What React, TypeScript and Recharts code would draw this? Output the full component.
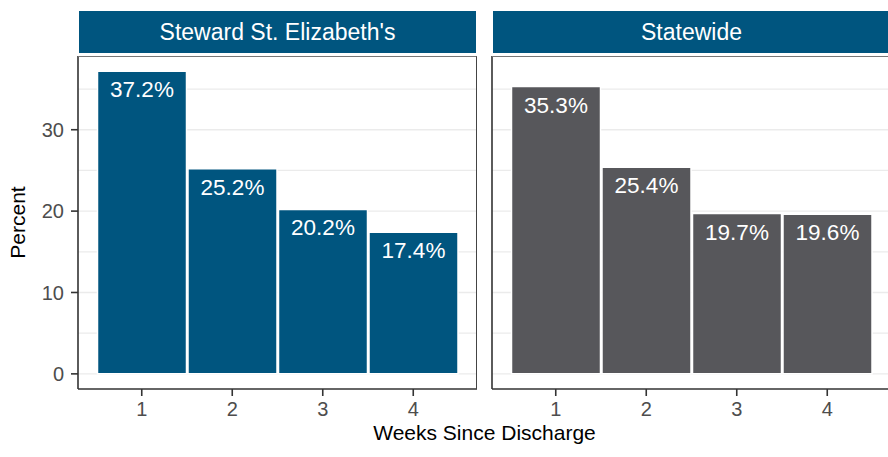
import React from "react";
import { BarChart, Bar, XAxis, YAxis, CartesianGrid, LabelList } from "recharts";

const weeks = ["1", "2", "3", "4"];
const stewardValues = [37.2, 25.2, 20.2, 17.4];
const statewideValues = [35.3, 25.4, 19.7, 19.6];
const facetLabels = ["Steward St. Elizabeth's", "Statewide"];
const yTicks = [0, 10, 20, 30];
const gridValues = [0, 5, 10, 15, 20, 25, 30, 35];

const allValues = [...stewardValues, ...statewideValues];
const yMax = Math.max(...allValues);
const yPad = yMax * 0.05;
const yDomain: [number, number] = [-yPad, yMax + yPad];

const BLUE = "#00557F";
const GRAY = "#57575B";
const FONT = "'Liberation Sans', Arial, Helvetica, sans-serif";

const stewardData = weeks.map((w, i) => ({ week: w, value: stewardValues[i] }));
const statewideData = weeks.map((w, i) => ({ week: w, value: statewideValues[i] }));

const BarLabel = (props: any) => {
  const { x, y, width, value } = props;
  return (
    <text
      x={Number(x) + Number(width) / 2}
      y={Number(y) + 26}
      textAnchor="middle"
      fill="#ffffff"
      fontSize={22.5}
      fontFamily={FONT}
    >
      {Number(value).toFixed(1) + "%"}
    </text>
  );
};

const gridGen = ({ yAxis, offset }: any) => {
  const sc = yAxis && yAxis.scale;
  if (typeof sc === "function") return gridValues.map((v) => sc(v));
  if (sc && typeof sc.map === "function") return gridValues.map((v) => sc.map(v));
  return gridValues.map(
    (v) => offset.top + (offset.height * (yDomain[1] - v)) / (yDomain[1] - yDomain[0])
  );
};

function Panel({ data, color, showY, left, label }: any) {
  return (
    <div style={{ position: "absolute", left, top: 0, width: 480, height: 457 }}>
      <BarChart
        width={480}
        height={457}
        data={data}
        margin={{ top: 56, right: 3, bottom: 28, left: 18 }}
        barCategoryGap={1}
      >
        <CartesianGrid
          vertical={false}
          stroke="#EBEBEB"
          strokeWidth={1.3}
          horizontalCoordinatesGenerator={gridGen}
        />
        <XAxis
          dataKey="week"
          height={40}
          padding={{ left: 18.5, right: 18.5 }}
          tickSize={7}
          tickMargin={6}
          axisLine={{ stroke: "#333333", strokeWidth: 1.6 }}
          tickLine={{ stroke: "#333333", strokeWidth: 1.6 }}
          tick={{ fill: "#4D4D4D", fontSize: 20, fontFamily: FONT }}
        />
        <YAxis
          type="number"
          width={60}
          domain={yDomain}
          ticks={yTicks}
          allowDataOverflow
          tickSize={7}
          tickMargin={7}
          axisLine={{ stroke: "#333333", strokeWidth: 1.6 }}
          tickLine={showY ? { stroke: "#333333", strokeWidth: 1.6 } : false}
          tick={showY ? { fill: "#4D4D4D", fontSize: 20, fontFamily: FONT } : false}
        />
        <Bar dataKey="value" fill={color} stroke="#ffffff" strokeWidth={1.5} isAnimationActive={false}>
          <LabelList dataKey="value" content={BarLabel} />
        </Bar>
      </BarChart>
      <div
        style={{
          position: "absolute",
          left: 78,
          top: 56,
          width: 399,
          height: 333,
          borderTop: "1px solid #777777",
          borderRight: "1px solid #444444",
          boxSizing: "border-box",
          pointerEvents: "none",
        }}
      />
      <div
        style={{
          position: "absolute",
          left: 79,
          top: 11,
          width: 397,
          height: 42,
          background: BLUE,
          color: "#ffffff",
          fontFamily: FONT,
          fontSize: 23,
          lineHeight: "42px",
          textAlign: "center",
          whiteSpace: "nowrap",
        }}
      >
        {label}
      </div>
    </div>
  );
}

export default function App() {
  return (
    <div
      style={{
        position: "absolute",
        left: 0,
        top: 0,
        width: 888,
        height: 457,
        overflow: "hidden",
        background: "#ffffff",
      }}
    >
      <Panel data={stewardData} color={BLUE} showY={true} left={0} label={facetLabels[0]} />
      <Panel data={statewideData} color={GRAY} showY={false} left={414} label={facetLabels[1]} />
      <svg width={888} height={457} style={{ position: "absolute", left: 0, top: 0, pointerEvents: "none" }}>
        <text x={484.5} y={440} textAnchor="middle" fontSize={21} fontFamily={FONT} fill="#000000">
          Weeks Since Discharge
        </text>
        <text
          x={25}
          y={222.5}
          textAnchor="middle"
          fontSize={21}
          fontFamily={FONT}
          fill="#000000"
          transform="rotate(-90 25 222.5)"
        >
          Percent
        </text>
      </svg>
    </div>
  );
}
